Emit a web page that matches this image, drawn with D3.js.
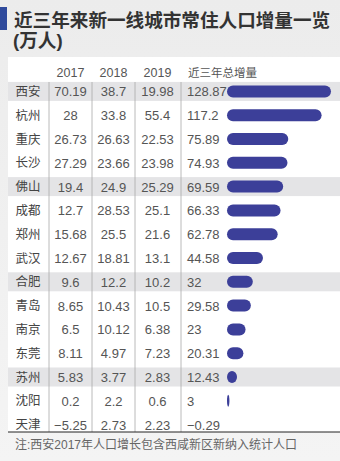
<!DOCTYPE html>
<html><head><meta charset="utf-8">
<script src="https://cdn.jsdelivr.net/npm/d3@7/dist/d3.min.js"></script>
<style>
html,body{margin:0;padding:0;background:#efefef;}
svg{display:block;}
</style></head>
<body>
<script>
const cities = ["西安","杭州","重庆","长沙","佛山","成都","郑州","武汉","合肥","青岛","南京","东莞","苏州","沈阳","天津"];
const v2017 = ["70.19","28","26.73","27.29","19.4","12.7","15.68","12.67","9.6","8.65","6.5","8.11","5.83","0.2","−5.25"];
const v2018 = ["38.7","33.8","26.63","23.66","24.9","28.53","25.5","18.81","12.2","10.43","10.12","4.97","3.77","2.2","2.73"];
const v2019 = ["19.98","55.4","22.53","23.98","25.29","25.1","21.6","13.1","10.2","10.5","6.38","7.23","2.83","0.6","2.23"];
const totals = [128.87,117.2,75.89,74.93,69.59,66.33,62.78,44.58,32,29.58,23,20.31,12.43,3,-0.29];
const totalLabels = ["128.87","117.2","75.89","74.93","69.59","66.33","62.78","44.58","32","29.58","23","20.31","12.43","3","−0.29"];
const headers = ["2017","2018","2019","近三年总增量"];
const title1 = "近三年来新一线城市常住人口增量一览";
const title2 = "(万人)";
const note = "注:西安2017年人口增长包含西咸新区新纳入统计人口";

const W = 340, H = 461;
const svg = d3.select("body").append("svg").attr("width", W).attr("height", H);
const defs = svg.append("defs");
const grad = defs.append("linearGradient").attr("id","bg").attr("x1",0).attr("y1",0).attr("x2",0).attr("y2",1);
grad.append("stop").attr("offset","0").attr("stop-color","#ececec");
grad.append("stop").attr("offset","1").attr("stop-color","#f4f4f4");
svg.append("rect").attr("width",W).attr("height",H).attr("fill","url(#bg)");

// title
svg.append("rect").attr("x",0).attr("y",7).attr("width",7).attr("height",23).attr("fill","#2f4a9c");
const font = "'Liberation Sans','Noto Sans CJK SC',sans-serif";
const cjk = "'Noto Sans CJK SC',sans-serif";
svg.append("text").attr("x",14).attr("y",26.5).attr("font-family",font).attr("font-size",18.6).attr("font-weight",700)
  .attr("fill","#333").text(title1);
svg.append("text").attr("x",13).attr("y",47).attr("font-family",font).attr("font-size",18.6).attr("font-weight",700)
  .attr("fill","#333").text(title2);

// panel
const panelX = 8, panelTop = 57, panelBottom = 432;
svg.append("rect").attr("x",panelX).attr("y",panelTop).attr("width",W-panelX).attr("height",panelBottom-panelTop).attr("fill","#ffffff");

const y = d3.scaleBand().domain(cities).range([79.5, 436.5]).paddingInner(0.18).paddingOuter(0.09);
// rows highlight
svg.append("g").selectAll("rect").data(cities.filter((c,i)=>i%4===0)).join("rect")
  .attr("x",panelX).attr("width",W-panelX)
  .attr("y",d=>y(d)+y.bandwidth()/2-9.5).attr("height",19).attr("fill","#e4e4e6");

// vertical lines
const colLines = [49, 92, 135, 181];
svg.append("g").selectAll("line").data(colLines).join("line")
  .attr("x1",d=>d).attr("x2",d=>d).attr("y1",82).attr("y2",panelBottom)
  .attr("stroke","#a8a8a8").attr("stroke-width",0.8);

// header
const colCenters = [70.5, 113.5, 157.5];
svg.append("g").selectAll("text").data(headers.slice(0,3)).join("text")
  .attr("x",(d,i)=>colCenters[i]).attr("y",77).attr("text-anchor","middle")
  .attr("font-family",font).attr("font-size",12.5).attr("fill","#555").text(d=>d);
svg.append("text").attr("x",188).attr("y",77).attr("font-family",cjk).attr("font-size",11.5).attr("fill","#555").text(headers[3]);

const cy = d => y(d)+y.bandwidth()/2;
// city names
svg.append("g").selectAll("text").data(cities).join("text")
  .attr("x",28).attr("y",d=>cy(d)+4.5).attr("text-anchor","middle")
  .attr("font-family",cjk).attr("font-size",12.5).attr("fill","#444").text(d=>d);
// values
[v2017, v2018, v2019].forEach((arr, k) => {
  svg.append("g").selectAll("text").data(arr).join("text")
    .attr("x",colCenters[k]).attr("y",(d,i)=>cy(cities[i])+5).attr("text-anchor","middle")
    .attr("font-family",font).attr("font-size",13).attr("fill","#555").text(d=>d);
});
svg.append("g").selectAll("text").data(totalLabels).join("text")
  .attr("x",187).attr("y",(d,i)=>cy(cities[i])+5)
  .attr("font-family",font).attr("font-size",13).attr("fill","#555").text(d=>d);

// bars
const x = d3.scaleLinear().domain([0, 128.87]).range([227, 331]);
const bh = 12;
svg.append("g").selectAll("rect").data(totals).join("rect")
  .attr("x",x(0)).attr("y",(d,i)=>cy(cities[i])-bh/2)
  .attr("width",d=>Math.max(0, x(d)-x(0))).attr("height",bh)
  .attr("rx",d=>Math.min(bh/2,(x(d)-x(0))/2)).attr("ry",bh/2)
  .attr("fill","#3c3f99");

// bottom rule and note
svg.append("line").attr("x1",panelX).attr("x2",W).attr("y1",panelBottom).attr("y2",panelBottom).attr("stroke","#222").attr("stroke-width",1);
svg.append("text").attr("x",15).attr("y",449).attr("font-family",font).attr("font-size",12).attr("fill","#666").text(note);
</script>
</body></html>
